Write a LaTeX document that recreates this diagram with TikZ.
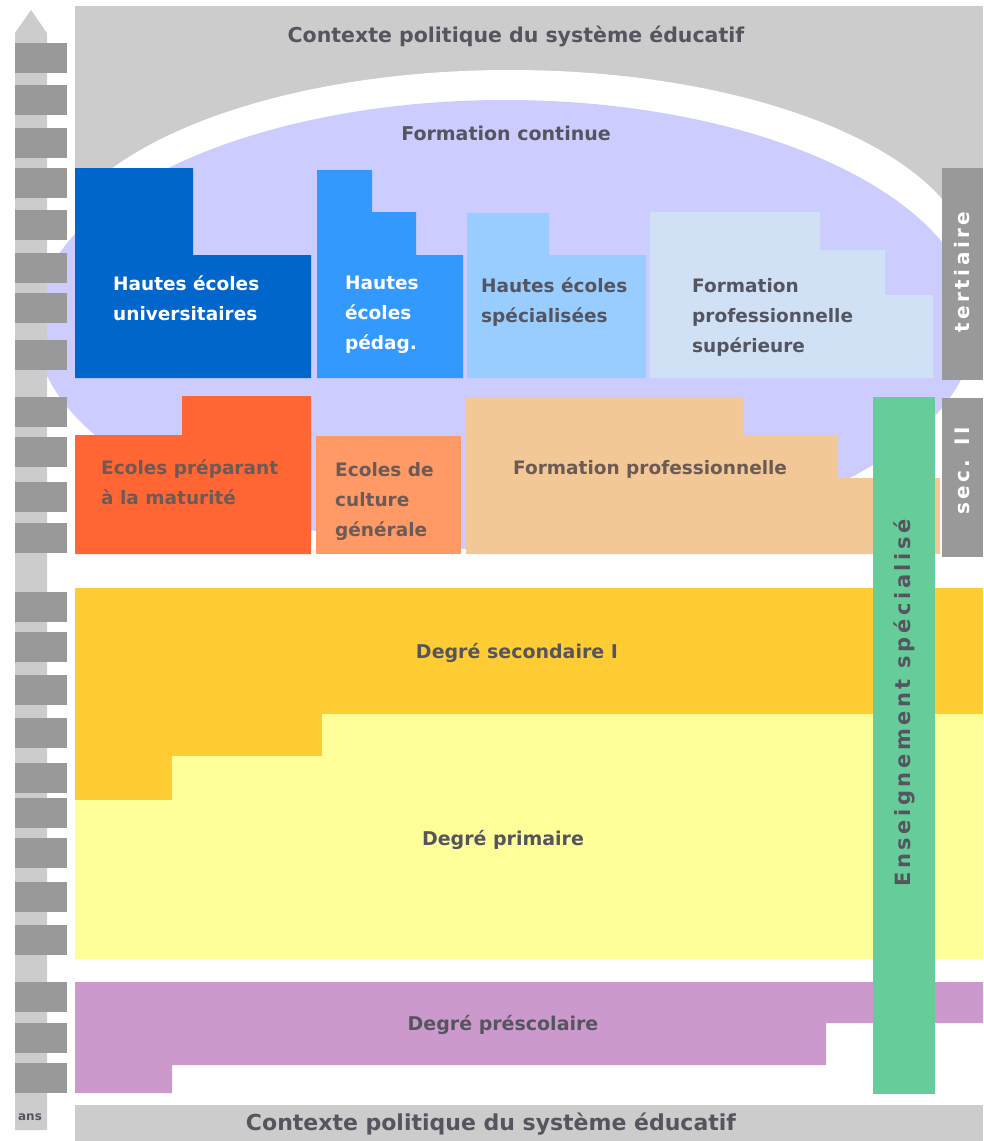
\documentclass[tikz,border=0pt]{standalone}
\usepackage{fontspec}
\setmainfont{DejaVu Sans}
\newfontfamily\widefont[LetterSpace=17]{DejaVu Sans}
\definecolor{ctxgray}{HTML}{CCCCCC}
\definecolor{midgray}{HTML}{999999}
\definecolor{lavender}{HTML}{CCCCFF}
\definecolor{univblue}{HTML}{0066CC}
\definecolor{pedblue}{HTML}{3399FF}
\definecolor{hesblue}{HTML}{99CCFF}
\definecolor{fpsblue}{HTML}{D0E0F5}
\definecolor{matorange}{HTML}{FF6633}
\definecolor{ecgorange}{HTML}{FF9966}
\definecolor{fptan}{HTML}{F2C896}
\definecolor{specgreen}{HTML}{66CC99}
\definecolor{secyellow}{HTML}{FFCC33}
\definecolor{primyellow}{HTML}{FFFF99}
\definecolor{presmauve}{HTML}{CC99CC}
\definecolor{txtgray}{HTML}{55555F}
\definecolor{txtbrown}{HTML}{6B5A55}
\tikzset{
	lbl/.style={font=\bfseries\fontsize{18.5}{30}\selectfont,text=txtgray,align=left,anchor=west,inner sep=0pt},
	wlbl/.style={lbl,text=white},
	olbl/.style={lbl,text=txtbrown},
	mid/.style={font=\bfseries\fontsize{19}{22}\selectfont,text=txtgray,inner sep=0pt},
	ctx/.style={font=\bfseries\fontsize{20.5}{24}\selectfont,text=txtgray,inner sep=0pt},
	side/.style={font=\widefont\bfseries\fontsize{20}{24}\selectfont,rotate=90,inner sep=0pt}
}
\begin{document}
\begin{tikzpicture}[x=1pt,y=-1pt]
	\useasboundingbox (0,0) rectangle (983,1141);
	\fill[ctxgray] (75,6) rectangle (983,300);
	\fill[white] (510,270) ellipse [x radius=462pt,y radius=200pt];
	\fill[lavender] (505,325) ellipse [x radius=470pt,y radius=225pt];
	\fill[ctxgray] (75,1105) rectangle (983,1141);
	\fill[univblue] (75,168) -| (193,255) -| (311,378) -| cycle;
	\fill[pedblue] (317,170) -| (372,212) -| (416,255) -| (463,378) -| cycle;
	\fill[hesblue] (467,213) -| (549,255) -| (646,378) -| cycle;
	\fill[fpsblue] (650,212) -| (820,250) -| (885,295) -| (933,378) -| cycle;
	\fill[matorange] (75,435) -| (182,396) -| (311,554) -| cycle;
	\fill[ecgorange] (316,436) rectangle (461,554);
	\fill[fptan] (466,397) -| (743,436) -| (838,478) -| (940,554) -| cycle;
	\fill[secyellow] (75,588) -| (983,714) -| (322,756) -| (172,800) -| cycle;
	\fill[primyellow] (75,800) -| (172,756) -| (322,714) -| (983,959) -| cycle;
	\fill[presmauve] (75,982) -| (983,1023) -| (826,1065) -| (172,1093) -| cycle;
	\fill[specgreen] (873,397) rectangle (935,1094);
	\fill[midgray] (942,168) rectangle (983,380);
	\fill[midgray] (942,398) rectangle (983,557);
	\fill[ctxgray] (15,33) -- (31,10) -- (47,33) -- (47,1130) -- (15,1130) -- cycle;
	\foreach \y in {43,85,128,168,210,253,293,340,397,437,482,523,592,632,675,718,763,798,838,882,925,982,1023,1063}
		\fill[midgray] (15,\y) rectangle (67,\y+30);
	\node[ctx] (ctxtop) at (516,37) {Contexte politique du système éducatif};
	\node[ctx,font=\bfseries\fontsize{22}{26}\selectfont] (ctxbot) at (491,1124) {Contexte politique du système éducatif};
	\node[mid] (fcont) at (506,133) {Formation continue};
	\node[wlbl] (heu) at (113,298) {Hautes écoles\\universitaires};
	\node[wlbl] (hep) at (345,315) {Hautes\\écoles\\pédag.};
	\node[lbl] (hes) at (481,302) {Hautes écoles\\spécialisées};
	\node[lbl] (fps) at (692,317) {Formation\\professionnelle\\supérieure};
	\node[olbl] (mat) at (101,482) {Ecoles préparant\\à la maturité};
	\node[olbl] (ecg) at (335,501) {Ecoles de\\culture\\générale};
	\node[olbl] (fp) at (513,469) {Formation professionnelle};
	\node[mid] (sec1) at (517,653) {Degré secondaire I};
	\node[mid] (prim) at (503,840) {Degré primaire};
	\node[mid] (pres) at (503,1025) {Degré préscolaire};
	\node[side,text=txtgray,font=\widefont\bfseries\fontsize{21}{24}\selectfont] (spec) at (904,703) {Enseignement spécialisé};
	\node[side,text=white] (tert) at (962,272) {tertiaire};
	\node[side,text=white] (sec2) at (962,471) {sec. II};
	\node[font=\bfseries\fontsize{12}{14}\selectfont,text=txtgray,inner sep=0pt] (ans) at (30,1117) {ans};
\end{tikzpicture}
\end{document}
